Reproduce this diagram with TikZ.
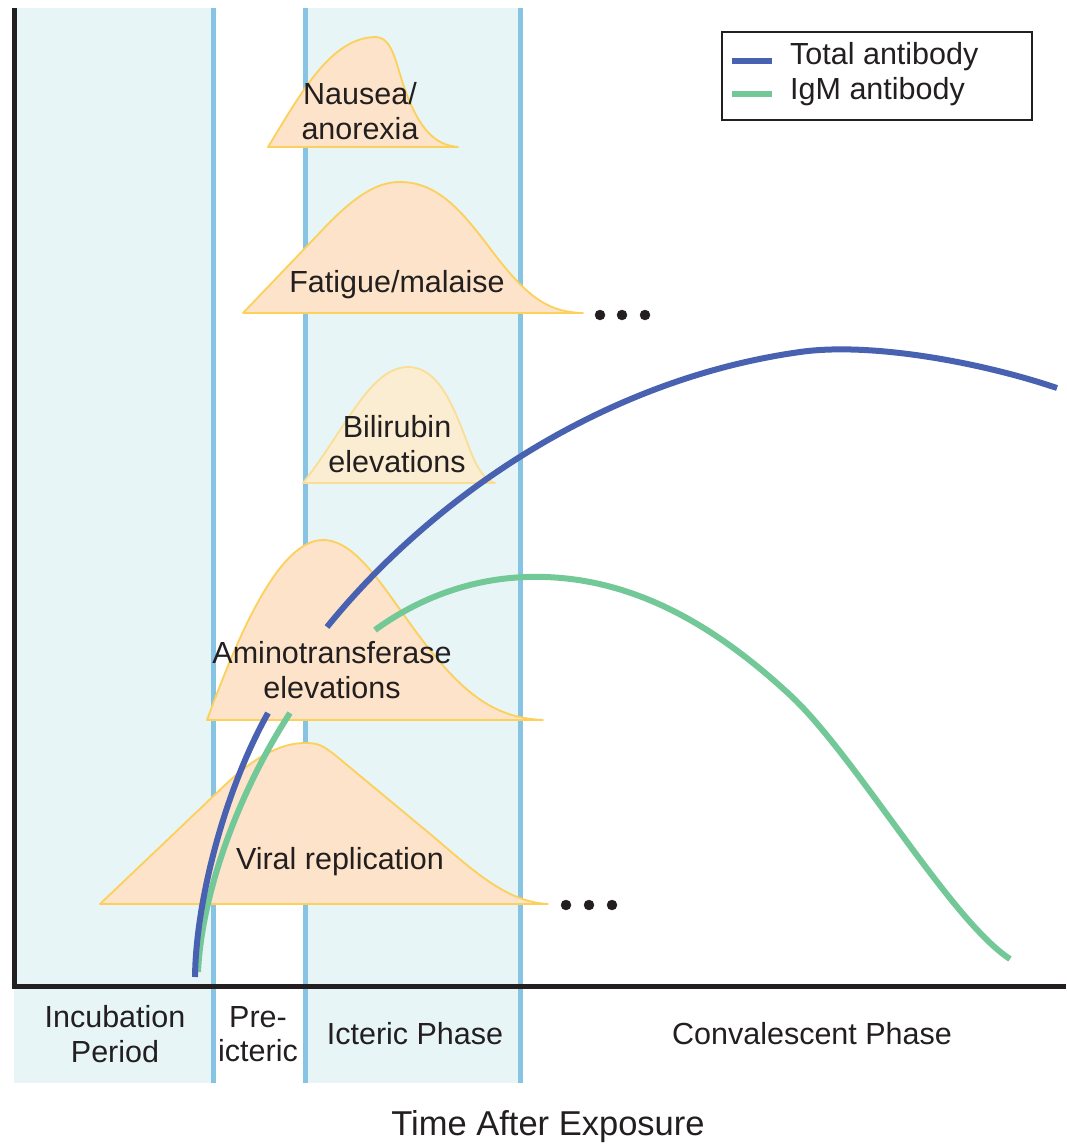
\documentclass[tikz,border=0pt]{standalone}
\usepackage{fontspec}
\setmainfont{Liberation Sans}
\usepackage{tikz}
\usepackage{color}

\definecolor{bandcyan}{RGB}{231,245,247}
\definecolor{phaseblue}{RGB}{135,196,228}
\definecolor{humpfill}{RGB}{252,227,201}
\definecolor{humpedge}{RGB}{253,208,90}
\definecolor{bilifill}{RGB}{251,237,210}
\definecolor{biliedge}{RGB}{250,222,150}
\definecolor{totalblue}{RGB}{72,97,176}
\definecolor{igmgreen}{RGB}{115,200,152}
\definecolor{inkgray}{RGB}{35,31,32}

\begin{document}
\begin{tikzpicture}[%
      x=1pt, y=-1pt,
      hump/.style={fill=humpfill, draw=humpedge, line width=1.8pt, line join=round},
      phase/.style={color=phaseblue, line width=5pt},
      axisline/.style={color=inkgray, line width=5pt},
      totalab/.style={color=totalblue, line width=6pt},
      igmab/.style={color=igmgreen, line width=6pt},
      lbl/.style={font=\fontsize{30.5}{34.5}\selectfont, text=inkgray, align=center, inner sep=0pt},
      ]
      \useasboundingbox (0,0) rectangle (1066,1146);
      \fill [color=white] (0,0) rectangle (1066,1146);

      \fill [color=bandcyan] (14,8) rectangle (213,1083);
      \fill [color=bandcyan] (305,8) rectangle (520,1083);
      \draw [phase] (213,8) -- (213,1083);
      \draw [phase] (305,8) -- (305,1083);
      \draw [phase] (520,8) -- (520,1083);

      \draw [axisline] (14,8) -- (14,988.5);
      \draw [axisline] (11.5,986) -- (1066,986);

      \draw [hump] (268,147) .. controls (300,95) and (330,38) .. (375,37)
            .. controls (392,37) and (395,60) .. (405,90)
            .. controls (420,130) and (435,145) .. (458,147) -- cycle;
      \draw [hump] (243,313) -- (330,222) .. controls (360,192) and (380,182) .. (400,182)
            .. controls (440,182) and (465,215) .. (495,255)
            .. controls (530,300) and (550,312) .. (583,313) -- cycle;
      \draw [hump, fill=bilifill, draw=biliedge] (303,483) .. controls (345,430) and (370,367) .. (408,367)
            .. controls (440,367) and (455,410) .. (470,450)
            .. controls (478,470) and (485,480) .. (495,483) -- cycle;
      \draw [hump] (207,720) .. controls (240,630) and (280,540) .. (323,540)
            .. controls (360,540) and (390,600) .. (430,650)
            .. controls (470,700) and (500,718) .. (543,720) -- cycle;
      \draw [hump] (100,904) -- (225,785) .. controls (260,752) and (285,743) .. (305,743)
            .. controls (318,743) and (322,745) .. (335,755) -- (435,838)
            .. controls (480,877) and (510,902) .. (548,904) -- cycle;

      \filldraw [color=inkgray] (600,315) circle (5pt);
      \filldraw [color=inkgray] (622,315) circle (5pt);
      \filldraw [color=inkgray] (645,315) circle (5pt);
      \filldraw [color=inkgray] (566,905) circle (5pt);
      \filldraw [color=inkgray] (589,905) circle (5pt);
      \filldraw [color=inkgray] (612,905) circle (5pt);

      \draw [igmab] (198,972) .. controls (202,890) and (240,790) .. (290,713);
      \draw [totalab] (195,977) .. controls (196,900) and (225,790) .. (268,713);
      \draw [totalab] (327,627) .. controls (430,500) and (600,380) .. (800,352)
            .. controls (870,342) and (980,362) .. (1057,388);
      \draw [igmab] (375,630) .. controls (430,590) and (490,575) .. (545,577)
            .. controls (640,580) and (720,630) .. (790,695)
            .. controls (855,755) and (950,920) .. (1010,959);

      \node [lbl] (nausea) at (360,111) {Nausea/\\anorexia};
      \node [lbl] (fatigue) at (397,285) {Fatigue/malaise};
      \node [lbl] (bili) at (397,444) {Bilirubin\\elevations};
      \node [lbl] (amino) at (332,670) {Aminotransferase\\elevations};
      \node [lbl] (viral) at (340,862) {Viral replication};

      \node [lbl] (incub) at (115,1034) {Incubation\\Period};
      \node [lbl] (preict) at (258,1034) {Pre-\\icteric};
      \node [lbl] (icteric) at (415,1034) {Icteric Phase};
      \node [lbl] (conval) at (812,1034) {Convalescent Phase};
      \node [lbl, font=\fontsize{34.5}{38}\selectfont] (timeaxis) at (548,1127) {Time After Exposure};

      \draw [color=inkgray, line width=1.5pt] (722,32) rectangle (1032,120);
      \node [lbl, anchor=west] (legtotal) at (790,57) {Total antibody};
      \node [lbl, anchor=west] (legigm) at (790,92) {IgM antibody};
      \draw [totalab] ([xshift=-18pt]legtotal.west |- 0,61) -- ++(-40,0);
      \draw [igmab] ([xshift=-18pt]legigm.west |- 0,94) -- ++(-40,0);
\end{tikzpicture}
\end{document}
